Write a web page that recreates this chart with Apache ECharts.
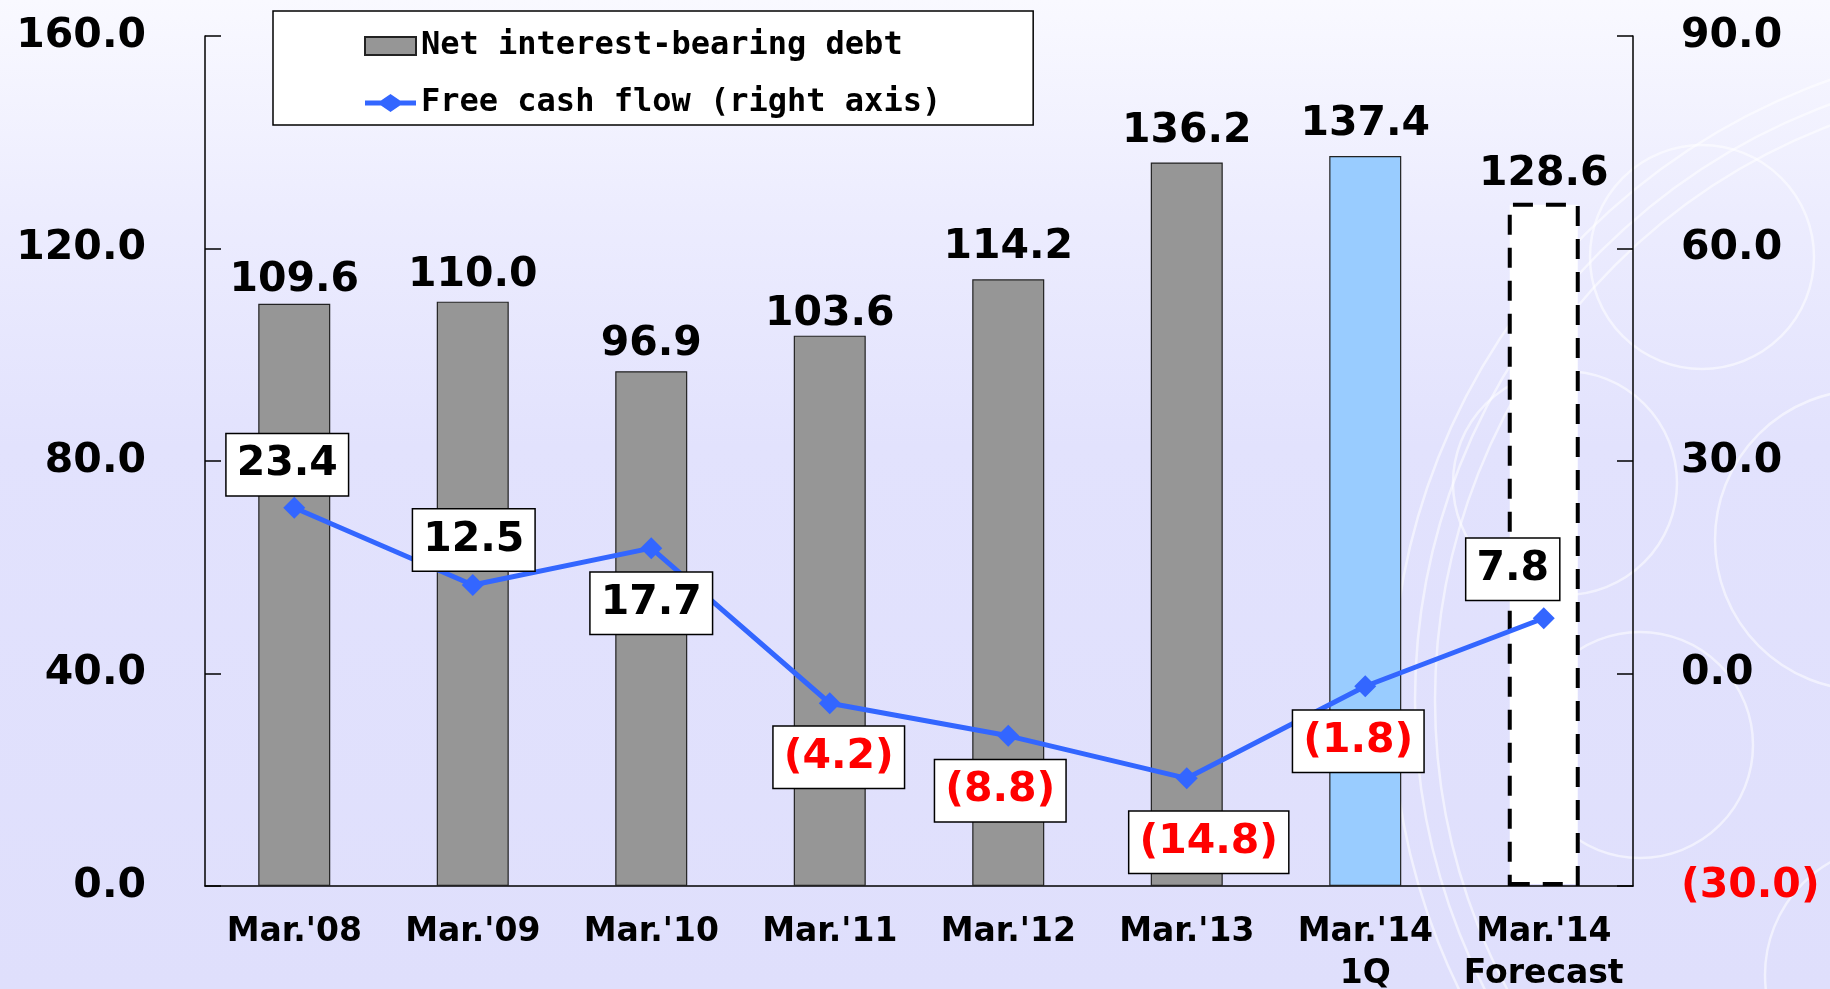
<!DOCTYPE html>
<html>
<head>
<meta charset="utf-8">
<title>Net interest-bearing debt / Free cash flow</title>
<script src="https://cdn.jsdelivr.net/npm/echarts@6/dist/echarts.min.js"></script>
<style>
  html, body {
    margin: 0;
    padding: 0;
  }
  body {
    background: linear-gradient(to bottom, #f9f9ff 0%, #ececfe 22%, #e2e2fd 45%, #dfdffc 100%);
  }
  #main {
    width: 1830px;
    height: 989px;
  }
</style>
</head>
<body>
<div id="main"></div>
<script>
// 数据
var categories = ["Mar.'08", "Mar.'09", "Mar.'10", "Mar.'11", "Mar.'12", "Mar.'13", "Mar.'14\n1Q", "Mar.'14\nForecast"]
var debtValues = [109.6, 110.0, 96.9, 103.6, 114.2, 136.2, 137.4, 128.6]
var fcfValues = [23.4, 12.5, 17.7, -4.2, -8.8, -14.8, -1.8, 7.8]
var leftTicks = { min: 0, max: 160, interval: 40 }
var rightTicks = { min: -30, max: 90, interval: 30 }

// 标签位置 (相对于点/柱顶的偏移)
var fcfLabelOffsets = [[-7, -43], [1, -45], [0, 55], [9, 54], [-8, 55], [22, 64], [-7, 55], [-31, -49]]
var barLabelOffsets = [-1, -4, -4, 1, -9, -9, -9, -6]

var numFont = "DejaVu Sans, Verdana, sans-serif"

function fmt(v) {
  return v < 0 ? "{neg|(" + Math.abs(v).toFixed(1) + ")}" : "{pos|" + v.toFixed(1) + "}"
}

var chartDom = document.getElementById("main")
var myChart = echarts.init(chartDom)

// 柱子样式
var barData = debtValues.map(function (v, i) {
  var item = { value: v, label: { offset: [0, barLabelOffsets[i]] } }
  if (i === 6) {
    item.itemStyle = { color: "#99ccff", borderColor: "#222", borderWidth: 1.2 }
  }
  if (i === 7) {
    item.itemStyle = { color: "#ffffff", borderColor: "#000", borderWidth: 4, borderType: [20, 13] }
  }
  return item
})

var lineData = fcfValues.map(function (v, i) {
  return {
    value: v,
    label: { offset: fcfLabelOffsets[i] }
  }
})

var richNum = {
  pos: { color: "#000", fontFamily: numFont, fontWeight: "bold", fontSize: 41, lineHeight: 45 },
  neg: { color: "#ff0000", fontFamily: numFont, fontWeight: "bold", fontSize: 41, lineHeight: 45 }
}

// 背景圆圈
var ring = { stroke: "rgba(255,255,255,0.55)", lineWidth: 2.5, fill: "none" }
var circles = [
  [1702, 257, 112], [1565, 483, 112], [1640, 745, 113], [1865, 540, 150],
  [1895, 975, 130], [2050, 700, 615], [2050, 700, 635], [2050, 700, 658]
].map(function (c) {
  return { type: "circle", silent: true, z: -10, shape: { cx: c[0], cy: c[1], r: c[2] }, style: ring }
})

var option = {
  animation: false,
  backgroundColor: "transparent",
  graphic: circles,
  grid: {
    left: 205,
    right: 197,
    top: 36,
    bottom: 103,
    outerBoundsMode: "none"
  },
  legend: {
    orient: "vertical",
    left: 273,
    top: 11,
    padding: [17, 92, 4, 91],
    itemGap: 21,
    itemWidth: 51,
    itemHeight: 18,
    backgroundColor: "#ffffff",
    borderColor: "#000",
    borderWidth: 1.5,
    textStyle: {
      fontFamily: "DejaVu Sans Mono, monospace",
      fontWeight: "bold",
      fontSize: 32,
      lineHeight: 36,
      color: "#000"
    },
    data: [
      { name: "Net interest-bearing debt", icon: "rect" },
      {
        name: "Free cash flow (right axis)",
        icon: "path://M0,6.5 L16,6.5 L25.5,0 L35,6.5 L51,6.5 L51,11.5 L35,11.5 L25.5,18 L16,11.5 L0,11.5 Z"
      }
    ]
  },
  xAxis: [
    {
      type: "category",
      data: categories,
      axisLine: { lineStyle: { color: "#000", width: 1.5 } },
      axisTick: { length: 11, lineStyle: { color: "#000", width: 1.5 } },
      axisLabel: {
        margin: 25,
        color: "#000",
        fontFamily: numFont,
        fontWeight: "bold",
        fontSize: 33,
        lineHeight: 42,
        interval: 0
      }
    },
    {
      // 只用来画朝上的刻度
      type: "category",
      position: "bottom",
      data: categories,
      axisLine: { show: false },
      axisTick: { inside: true, length: 11, lineStyle: { color: "#000", width: 1.5 } },
      axisLabel: { show: false }
    }
  ],
  yAxis: [
    {
      type: "value",
      min: leftTicks.min,
      max: leftTicks.max,
      interval: leftTicks.interval,
      splitLine: { show: false },
      axisLine: { show: true, lineStyle: { color: "#000", width: 1.5 } },
      axisTick: { show: true, inside: true, length: 16, lineStyle: { color: "#000", width: 1.5 } },
      axisLabel: {
        margin: 59,
        color: "#000",
        fontFamily: numFont,
        fontWeight: "bold",
        fontSize: 41,
        formatter: function (v) { return v.toFixed(1) }
      }
    },
    {
      type: "value",
      position: "right",
      min: rightTicks.min,
      max: rightTicks.max,
      interval: rightTicks.interval,
      splitLine: { show: false },
      axisLine: { show: true, lineStyle: { color: "#000", width: 1.5 } },
      axisTick: { show: true, inside: true, length: 16, lineStyle: { color: "#000", width: 1.5 } },
      axisLabel: {
        margin: 48,
        formatter: fmt,
        rich: richNum
      }
    }
  ],
  series: [
    {
      name: "Net interest-bearing debt",
      type: "bar",
      barWidth: 72,
      z: 2,
      data: barData,
      itemStyle: { color: "#969696", borderColor: "#222", borderWidth: 1.2 },
      label: {
        show: true,
        position: "top",
        distance: 2,
        color: "#000",
        fontFamily: numFont,
        fontWeight: "bold",
        fontSize: 41,
        formatter: function (p) { return p.value.toFixed(1) }
      }
    },
    {
      name: "Free cash flow (right axis)",
      type: "line",
      yAxisIndex: 1,
      z: 3,
      data: lineData,
      symbol: "diamond",
      symbolSize: 22,
      color: "#3366ff",
      lineStyle: { color: "#3366ff", width: 5 },
      itemStyle: { color: "#3366ff" },
      label: {
        show: true,
        position: "inside",
        backgroundColor: "#ffffff",
        borderColor: "#000",
        borderWidth: 1.5,
        padding: [8, 10, 8, 10],
        formatter: function (p) { return fmt(p.value) },
        rich: richNum
      }
    }
  ]
}

option && myChart.setOption(option)
</script>
</body>
</html>
